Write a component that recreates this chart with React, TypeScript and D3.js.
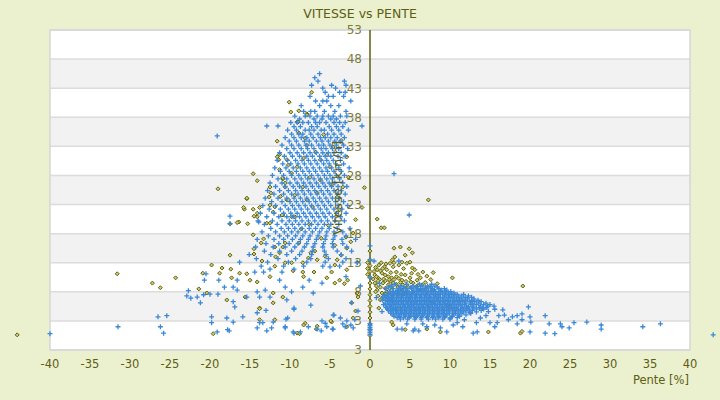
import * as d3 from "d3";
import React, { useEffect, useRef } from "react";

// Pente [%] / Vitesse [km/h] readings, rows are [vitesse, pente, pente, ...]
const blueMainRows: number[][] = [
  [45.5, -6.3],
  [44.8, -6.9],
  [44.2, -6.5, -3.2],
  [43.5, -7.3, -4.8, -3.0],
  [43.0, -5.9, -4.3],
  [42.3, -5.6, -3.8, -3.1],
  [41.6, -7.5, -5.2, -4.6, -3.3],
  [40.8, -6.8, -5.9, -5.4, -2.4],
  [40.0, -8.6, -6.3, -4.9, -3.9],
  [39.0, -8.3, -7.4, -6.9, -5.7, -4.4, -3.0],
  [38.2, -9.4, -8.1, -7.5, -6.6, -5.9, -5.2, -4.6, -3.7, -2.9],
  [37.7, -8.8, -7.0, -6.0, -4.9, -4.2],
  [37.1, -9.9, -9.1, -8.4, -7.7, -6.8, -6.3, -5.5, -4.5, -3.8, -3.1],
  [36.5, -12.9, -11.5, -1.0],
  [36.4, -9.5, -8.7, -7.3, -6.6, -5.1, -4.2, -3.4],
  [35.8, -10.3, -9.2, -8.1, -7.6, -7.0, -6.1, -5.7, -4.8, -3.9, -2.7],
  [35.1, -9.8, -8.9, -8.4, -7.4, -6.5, -5.3, -4.5, -3.6],
  [34.8, -19.1],
  [34.5, -10.6, -9.5, -8.6, -7.9, -7.1, -6.2, -5.6, -4.9, -4.1, -3.2],
  [33.9, -10.1, -9.2, -8.2, -7.6, -6.7, -6.0, -5.2, -4.4, -3.7],
  [33.2, -11.0, -9.8, -8.9, -8.0, -7.3, -6.4, -5.8, -5.0, -4.2, -3.3],
  [32.6, -10.4, -9.5, -8.6, -7.8, -7.0, -6.1, -5.5, -4.7, -3.9, -2.8],
  [31.9, -11.3, -10.0, -9.1, -8.3, -7.5, -6.7, -5.9, -5.2, -4.5, -3.6],
  [31.3, -10.7, -9.7, -8.8, -7.9, -7.2, -6.3, -5.6, -4.9, -4.0, -3.1],
  [30.6, -11.6, -10.3, -9.3, -8.5, -7.7, -6.9, -6.1, -5.4, -4.6, -3.7],
  [30.0, -10.9, -9.9, -9.0, -8.2, -7.4, -6.6, -5.8, -5.1, -4.3, -3.3],
  [29.3, -11.9, -10.5, -9.6, -8.7, -7.9, -7.1, -6.3, -5.5, -4.8, -3.9, -2.6],
  [28.7, -11.2, -10.1, -9.2, -8.4, -7.6, -6.8, -6.0, -5.3, -4.5, -3.6],
  [28.3, 3.0],
  [28.0, -12.2, -10.8, -9.8, -8.9, -8.1, -7.3, -6.5, -5.7, -5.0, -4.2, -3.2],
  [27.4, -11.5, -10.4, -9.4, -8.6, -7.8, -7.0, -6.2, -5.4, -4.7, -3.8],
  [26.7, -12.5, -11.0, -10.0, -9.1, -8.3, -7.5, -6.7, -5.9, -5.1, -4.4, -3.4],
  [26.1, -11.8, -10.6, -9.6, -8.8, -8.0, -7.2, -6.4, -5.6, -4.8, -4.0, -2.9],
  [25.4, -12.8, -11.3, -10.2, -9.3, -8.5, -7.7, -6.9, -6.1, -5.3, -4.5, -3.6],
  [24.8, -12.0, -10.8, -9.8, -9.0, -8.2, -7.4, -6.6, -5.8, -5.0, -4.1, -3.1],
  [24.1, -13.1, -11.5, -10.4, -9.5, -8.7, -7.9, -7.1, -6.3, -5.5, -4.7, -3.8],
  [23.5, -12.3, -11.0, -10.0, -9.2, -8.4, -7.6, -6.8, -6.0, -5.2, -4.3, -3.3],
  [22.8, -13.4, -11.8, -10.6, -9.7, -8.9, -8.1, -7.3, -6.5, -5.7, -4.9, -4.0, -2.8],
  [22.2, -12.6, -11.2, -10.2, -9.4, -8.6, -7.8, -7.0, -6.2, -5.4, -4.5, -3.5],
  [21.5, -13.7, -12.0, -10.8, -9.9, -9.1, -8.3, -7.5, -6.7, -5.9, -5.1, -4.2, -3.0],
  [21.2, 4.9],
  [20.9, -12.9, -11.4, -10.4, -9.6, -8.8, -8.0, -7.2, -6.4, -5.6, -4.7, -3.7],
  [20.2, -14.0, -12.2, -11.0, -10.1, -9.3, -8.5, -7.7, -6.9, -6.1, -5.3, -4.4, -3.2],
  [19.6, -13.2, -11.6, -10.5, -9.7, -8.9, -8.1, -7.3, -6.5, -5.7, -4.9, -3.9],
  [18.9, -12.4, -11.1, -10.2, -9.4, -8.5, -7.6, -6.8, -6.0, -5.1, -4.1, -2.5],
  [18.3, -13.5, -11.8, -10.7, -9.8, -9.0, -8.1, -7.2, -6.3, -5.4, -4.5, -3.4],
  [17.6, -12.7, -11.3, -10.3, -9.3, -8.4, -7.5, -6.5, -5.5, -4.4, -3.0],
  [17.0, -14.1, -12.0, -10.8, -9.7, -8.7, -7.7, -6.7, -5.6, -4.6, -3.5, -1.8],
  [16.3, -13.0, -11.4, -10.1, -9.0, -7.9, -6.9, -5.8, -4.7, -3.4],
  [15.7, -14.3, -12.1, -10.6, -9.4, -8.2, -7.1, -5.9, -4.6, -2.9],
  [15.0, -13.2, -11.3, -9.8, -8.5, -7.2, -5.7, -4.1, -2.3],
  [14.4, -15.1, -12.4, -10.4, -8.8, -7.3, -5.5, -3.6],
  [13.7, -14.2, -11.5, -9.3, -7.4, -5.2, -3.0],
  [13.1, -16.3, -12.8, -10.2, -7.9, -5.6, -3.4, -1.6],
  [12.4, -13.6, -10.8, -8.3, -5.9, -3.8],
];

const blueDenseRows: number[][] = [
  [9.3, 3.1, 4.6, 6.2, 7.7],
  [9.0, 2.7, 3.8, 5.4, 6.5, 7.2, 8.1],
  [8.8, 2.3, 4.2, 5.1, 5.8, 6.9, 7.6, 8.4],
  [8.55, 2.0, 2.9, 3.6, 4.4, 5.2, 5.9, 6.3, 7.0, 7.8, 8.6, 9.3],
  [8.3, 3.4, 3.9, 4.7, 5.5, 6.1, 6.6, 7.3, 8.0, 8.9, 9.6],
  [8.05, 2.4, 2.9, 3.5, 4.1, 4.6, 5.2, 5.8, 6.4, 7.0, 7.6, 8.2, 8.8, 9.4, 10.1],
  [7.8, 2.6, 3.1, 3.7, 4.3, 4.9, 5.4, 6.0, 6.7, 7.2, 7.9, 8.5, 9.1, 9.8, 10.5],
  [7.55, 1.8, 2.3, 2.9, 3.5, 4.1, 4.6, 5.2, 5.8, 6.4, 7.0, 7.6, 8.2, 8.8, 9.5, 10.2, 10.9, 11.7],
  [7.3, 2.1, 2.7, 3.4, 3.9, 4.6, 5.1, 5.7, 6.3, 6.9, 7.4, 8.1, 8.6, 9.3, 9.9, 10.6, 11.4, 12.3],
  [7.05, 1.6, 2.2, 2.8, 3.3, 3.9, 4.5, 5.0, 5.6, 6.2, 6.8, 7.4, 7.9, 8.5, 9.1, 9.8, 10.4, 11.1, 11.9, 12.7],
  [6.8, 1.9, 2.5, 3.0, 3.6, 4.2, 4.8, 5.3, 5.9, 6.5, 7.1, 7.6, 8.3, 8.8, 9.5, 10.1, 10.8, 11.5, 12.2, 13.0],
  [6.55, 1.6, 2.2, 2.7, 3.3, 3.9, 4.5, 5.0, 5.6, 6.2, 6.8, 7.3, 8.0, 8.5, 9.2, 9.8, 10.5, 11.2, 11.9, 12.7, 13.5],
  [6.3, 2.2, 2.8, 3.3, 3.9, 4.5, 5.1, 5.6, 6.2, 6.8, 7.3, 7.9, 8.5, 9.1, 9.7, 10.3, 10.9, 11.6, 12.4, 13.1, 13.9],
  [6.05, 1.9, 2.5, 3.1, 3.6, 4.2, 4.8, 5.4, 5.9, 6.5, 7.1, 7.7, 8.2, 8.8, 9.4, 10.0, 10.6, 11.3, 12.0, 12.8, 13.6, 14.5],
  [5.8, 1.7, 2.4, 2.9, 3.5, 4.1, 4.7, 5.2, 5.8, 6.4, 7.0, 7.5, 8.1, 8.7, 9.3, 9.9, 10.5, 11.1, 11.8, 12.6, 13.3, 14.2, 15.0],
  [5.55, 2.1, 2.7, 3.2, 3.8, 4.4, 5.0, 5.5, 6.1, 6.7, 7.3, 7.8, 8.4, 9.0, 9.6, 10.2, 10.8, 11.4, 12.1, 12.9, 13.8, 14.7, 15.5],
  [5.3, 2.0, 2.6, 3.2, 3.8, 4.3, 4.9, 5.5, 6.1, 6.6, 7.2, 7.8, 8.4, 9.0, 9.6, 10.2, 10.8, 11.5, 12.1, 12.9, 13.7, 14.6],
  [5.05, 2.2, 2.8, 3.3, 3.9, 4.5, 5.1, 5.7, 6.2, 6.8, 7.4, 8.0, 8.6, 9.2, 9.8, 10.4, 11.0, 11.7, 12.4, 13.3, 14.2],
  [4.8, 2.3, 2.9, 3.5, 4.0, 4.6, 5.2, 5.8, 6.3, 6.9, 7.5, 8.1, 8.7, 9.3, 9.9, 10.6, 11.3, 12.0, 12.8, 13.9],
  [4.55, 2.6, 3.2, 3.8, 4.3, 4.9, 5.5, 6.1, 6.6, 7.2, 7.8, 8.4, 9.0, 9.6, 10.3, 11.0, 11.7, 12.4, 13.3],
  [4.3, 2.6, 3.3, 3.9, 4.5, 5.0, 5.6, 6.2, 6.8, 7.4, 8.0, 8.6, 9.2, 9.9, 10.7, 11.5, 12.6],
  [4.05, 2.9, 3.6, 4.2, 4.8, 5.4, 6.0, 6.6, 7.2, 7.8, 8.4, 9.0, 9.6, 10.4, 11.1, 12.0],
  [3.8, 3.0, 3.7, 4.4, 5.1, 5.8, 6.5, 7.2, 7.9, 8.6, 9.4, 10.3, 11.2],
  [3.55, 3.4, 4.2, 4.9, 5.7, 6.4, 7.1, 7.8, 8.6, 9.3, 10.1, 10.9],
  [3.3, 3.8, 4.7, 5.6, 6.4, 7.3, 8.2, 9.1, 10.0],
];

// flat pente, vitesse pairs
const blueSparse: number[] = [
  -17.5, 21.0, -17.5, 19.7, -13.9, 20.0, -14.4, 11.4, -13.3, 11.4, -12.5, 11.9, -11.0, 11.4, -9.5, 11.9,
  -20.5, 11.1, -18.9, 10.0, -16.6, 10.0, -20.7, 10.0, -22.7, 8.2, -22.9, 7.3, -22.4, 6.9, -21.6, 7.1,
  -20.8, 7.5, -20.0, 7.6, -19.0, 7.6, -21.2, 6.1, -18.2, 8.8, -17.1, 8.8, -17.1, 6.3, -16.9, 5.4,
  -15.9, 3.7, -15.4, 7.1, -14.1, 8.0, -13.1, 8.3, -13.8, 7.1, -12.5, 7.1, -14.1, 4.4, -13.4, 2.7,
  -12.1, 2.8, -10.6, 2.0, -9.6, 1.1, -8.7, 1.1, -9.5, 5.2, -8.4, 8.8, -7.6, 10.0, -7.1, 7.8,
  -6.0, 9.5, -4.6, 4.0, -3.7, 3.5, -3.1, 2.0, -4.6, 1.6, -26.5, 3.7, -25.4, 3.9, -26.2, 2.0,
  -25.8, 0.9, -31.5, 2.0, -19.8, 3.7, -19.8, 2.7, -17.9, 3.5, -17.1, 2.8, -17.8, 1.5, -19.1, 1.1,
  -14.1, 1.8, -12.3, 1.8, -10.3, 3.5, -7.7, 2.0, -6.6, 1.6, -5.4, 2.0, -10.6, 8.8, -11.3, 10.0,
  -9.8, 8.0, -10.4, 6.6, -16.6, 8.3, -13.0, 4.8, -13.8, 2.7, -12.9, 1.3, -17.6, 1.3, -10.5, 3.3,
  -10.6, 1.8, -9.5, 5.0, -9.5, 0.9, -7.4, 5.7, -6.1, 1.3, -6.0, 3.0, -5.6, 2.6, -4.7, 1.6,
  -4.5, 4.0, -3.4, 2.5, -2.9, 3.0, -2.4, 2.3, -2.1, 1.8, -2.3, 6.1, -1.5, 4.7, -1.9, 3.2,
  -40.0, 0.8, -1.2, 9.0, -1.6, 13.0, -3.0, 10.6, -5.0, 12.3,
  0, 0.7, 0, 1.0, 0, 1.3, 0, 1.6, 0, 1.9, 0, 2.2, 0, 2.5, 0, 15.9, 0, 13.5, 0, 10.4,
  3.6, 13.3, 0.5, 13.3, 1.2, 9.4, 0.8, 7.0, 1.5, 4.6,
  19.8, 5.4, 21.9, 3.9, 22.4, 2.5, 21.9, 0.9, 23.1, 0.8, 23.8, 2.5, 24.0, 2.0, 24.9, 1.8,
  25.5, 2.7, 27.1, 2.8, 28.9, 2.3, 28.9, 1.6, 34.1, 2.0, 36.3, 2.5, 42.9, 0.6, 20.0, 3.7,
  20.1, 2.8, 20.0, 1.1, 19.0, 4.2, 19.0, 3.2, 18.4, 3.9, 17.8, 3.7, 16.6, 4.9, 16.8, 4.0,
  16.1, 3.9, 15.6, 2.0, 15.9, 2.7, 15.0, 2.7, 14.5, 3.9, 14.1, 5.2, 13.3, 2.7, 12.9, 0.9,
  13.4, 1.1, 12.3, 5.4, 11.6, 2.0, 10.9, 2.7, 10.4, 2.3, 9.6, 1.1, 8.8, 1.8, 8.1, 2.3,
  7.1, 2.0, 6.6, 2.5, 5.6, 1.6, 5.4, 1.3, 4.6, 2.5, 4.0, 1.6, 3.4, 1.6, 6.1, 1.3,
  10.0, 3.5, 11.8, 3.2, 12.5, 4.4, 13.8, 3.5, 17.3, 3.2, 18.4, 2.5, 14.8, 4.6, 15.6, 5.0,
];

const oliveSparse: number[] = [
  -10.1, 40.6, -9.9, 38.9, -8.9, 39.1, -7.3, 42.3, -11.6, 33.9, -9.1, 37.2, -7.9, 38.6, -14.6, 28.3,
  -14.1, 27.1, -19.0, 25.7, -15.4, 24.0, -12.5, 26.0, -12.6, 24.3, -11.3, 29.0, -11.6, 31.2, -11.4, 30.7,
  -10.9, 27.4, -10.6, 26.0, -10.4, 23.8, -15.7, 22.2, -14.6, 22.2, -14.1, 20.9, -15.3, 19.7, -16.4, 20.0,
  -17.5, 19.7, -12.9, 19.8, -12.5, 19.8, -14.6, 17.8, -11.9, 22.6, -10.9, 21.2, -9.8, 20.9,
  -14.1, 21.5, -14.5, 21.0, -16.6, 19.9, -13.6, 16.4, -13.3, 17.1, -14.5, 15.4, -14.5, 14.5, -17.5, 14.3,
  -13.5, 13.3, -19.8, 12.6, -20.9, 11.2, -18.5, 12.1, -17.4, 11.9, -17.3, 10.4, -18.8, 11.2, -31.6, 11.1,
  -27.2, 9.5, -26.2, 8.7, -24.3, 10.4, -21.4, 8.5, -16.3, 11.2, -15.4, 11.1, -15.0, 10.0, -14.1, 9.7,
  -12.5, 10.6, -11.9, 12.4, -11.8, 14.0, -11.9, 15.7, -10.9, 15.7, -10.6, 16.4, -11.3, 14.7, -10.6, 13.0,
  -9.8, 13.0, -9.6, 11.6, -8.4, 13.0, -8.4, 11.4, -8.3, 10.6, -7.7, 13.8, -7.4, 14.7, -6.6, 13.5,
  -7.0, 11.4, -5.4, 10.4, -4.8, 11.4, -4.4, 9.5, -3.8, 10.0, -4.4, 12.6, -4.1, 13.5, -3.6, 14.3,
  -2.9, 15.5, -2.4, 16.6, -3.0, 17.4, -2.1, 18.1, -2.9, 11.8, -2.8, 10.0, -3.2, 9.4, -20.4, 7.8,
  -17.9, 6.6, -15.6, 7.1, -13.8, 5.2, -12.1, 7.8, -10.9, 7.1, -11.9, 3.2, -13.8, 3.2, -19.6, 0.8,
  -9.1, 0.9, -8.1, 2.6, -6.6, 2.1, -4.8, 2.8, -2.9, 2.0, -1.8, 4.7, -1.6, 7.8, -1.5, 7.1,
  -2.1, 3.5, -44.1, 0.6, -13.8, 5.1, -12.1, 6.1, -8.3, 2.3, -6.7, 1.6, -8.8, 0.8, -4.9, 3.0,
  -2.3, 6.1, -7.9, 38.4, -9.0, 37.2, -8.9, 35.3, -8.1, 34.4, -7.9, 33.2, -11.3, 31.6, -10.4, 30.7,
  -10.2, 29.8, -9.1, 29.5, -9.8, 28.4, -10.9, 27.6, -10.6, 26.7, -12.4, 25.0, -11.2, 24.4, -10.2, 23.8,
  -8.4, 26.0, -7.5, 27.7, -6.2, 27.2, -6.6, 25.0, -7.2, 22.6, -7.9, 23.8, -6.2, 30.7, -5.0, 29.5,
  -4.6, 32.9, -4.8, 26.4, -5.4, 31.5, -4.1, 24.3, -3.4, 26.0, -2.9, 31.2, -2.7, 27.7, -3.8, 22.1,
  -15.4, 24.1, -15.8, 22.5, -13.8, 22.5, -12.5, 22.9, -12.1, 21.7, -11.0, 21.2, -9.4, 20.9, -8.6, 18.8,
  -7.6, 19.6, -6.1, 17.2, -5.2, 19.4, -4.4, 16.0, -6.9, 15.0, -5.6, 14.1, -8.9, 16.4, -9.4, 24.6,
  -5.8, 35.0, -3.6, 34.0, -6.8, 32.0, -8.3, 31.0, -4.2, 21.0, -1.8, 20.4, -1.0, 22.5,
  -0.7, 25.9, 0.9, 20.5, 1.4, 19.0, 1.8, 19.0, 7.3, 23.8, 3.0, 15.5, 3.8, 15.7, 4.9, 15.4,
  5.3, 14.7, 2.8, 13.5, 3.1, 14.0, 4.4, 14.3, 4.0, 13.1, 4.6, 12.9, 5.0, 13.1, 1.8, 12.3,
  2.1, 11.8, 2.9, 12.3, 3.3, 11.4, 0.9, 11.8, 0.6, 10.9, 1.0, 10.4, 1.5, 11.2, 1.9, 10.9,
  2.3, 10.6, 2.7, 10.4, 3.3, 10.6, 4.0, 10.0, 4.4, 10.9, 5.3, 12.1, 5.6, 11.8, 6.3, 10.4,
  6.6, 11.4, 7.1, 10.7, 7.9, 8.3, 6.1, 9.2, 5.4, 9.5, 4.8, 8.8, 4.1, 9.2, 3.5, 8.8,
  2.9, 9.5, 2.3, 9.2, 1.6, 9.5, 1.3, 8.8, 0.9, 8.3, 0.6, 9.5, 1.5, 7.8, 2.1, 8.0,
  2.7, 8.3, 3.3, 8.0, 4.0, 8.3, 4.6, 8.0, 5.4, 8.0, 6.6, 8.3, 7.3, 8.8, 1.6, 7.1,
  2.3, 6.9, 1.3, 6.6, 1.1, 5.2, 2.7, 2.8, 2.9, 2.3, 4.4, 1.5, 7.1, 1.6, 8.8, 1.1,
  14.8, 1.1, 10.3, 10.4, 19.1, 9.0, 18.8, 0.9, 19.0, 1.2, 6.0, 8.3, 7.7, 6.3, 9.6, 5.7,
  10.0, 5.4, 1.2, 10.1, 0.8, 9.0, 1.9, 9.9, 2.5, 9.8, 3.0, 10.1, 3.8, 9.6, 1.1, 12.6,
  2.5, 12.9, 3.6, 12.6, 0.7, 12.2, 1.4, 13.0, 5.0, 10.4, 5.9, 10.0, 6.9, 9.6, 2.0, 7.6,
  1.0, 9.9, 1.7, 10.2, 2.4, 10.1, 3.6, 10.3, 4.5, 9.8, 1.3, 11.6, 2.6, 11.3, 3.9, 11.0,
  0.8, 10.6, 2.0, 12.8, 3.0, 13.0, 4.2, 12.0, 1.9, 8.6, 2.6, 8.8, 3.3, 9.3, 4.4, 9.0,
  5.1, 9.7, 0.7, 8.0, 1.0, 7.3, 2.8, 7.4, 3.6, 7.7, 4.2, 7.6, 5.8, 8.9, 6.5, 9.2,
  5.2, 11.2, 6.0, 11.0, 7.6, 10.1, 7.9, 11.3, 8.4, 9.4, 0.4, 10.2, 0.5, 11.5, 1.6, 12.0,
  0, 0.5, 0, 1.5, 0, 2.5, 0, 3.5, 0, 4.5, 0, 5.5, 0, 6.5, 0, 7.5, 0, 8.5, 0, 9.5,
  0, 10.5, 0, 11.5, 0, 12.5, 0, 13.5, 0, 15.0, -0.3, 11.0, -0.3, 12.0, -0.3, 13.0,
];

const xTicks = [-40, -35, -30, -25, -20, -15, -10, -5, 0, 5, 10, 15, 20, 25, 30, 35, 40];
const yTicks = [-2, 3, 8, 13, 18, 23, 28, 33, 38, 43, 48, 53];
const yTickLabels = ["3", "3", "8", "13", "18", "23", "28", "33", "38", "43", "48", "53"];

const rowsToPairs = (rows: number[][]) =>
  rows.flatMap((r) => r.slice(1).map((p) => [p, r[0]] as [number, number]));
const flatToPairs = (flat: number[]) => {
  const out: [number, number][] = [];
  for (let i = 0; i < flat.length; i += 2) out.push([flat[i], flat[i + 1]]);
  return out;
};

const App: React.FC = () => {
  const svgRef = useRef<SVGSVGElement | null>(null);

  useEffect(() => {
    const svg = d3.select(svgRef.current);
    svg.selectAll("*").remove();
    const width = 720;
    const height = 400;
    const font = "DejaVu Sans, sans-serif";

    const x = d3.scaleLinear().domain([-40, 40]).range([50, 690]);
    const y = d3.scaleLinear().domain([-2, 53]).range([350, 30]);

    svg.append("rect").attr("width", width).attr("height", height).attr("fill", "#ebf0ce");
    svg.append("rect").attr("x", 50).attr("y", 30).attr("width", 640).attr("height", 320).attr("fill", "#ffffff");

    // bandes grises
    const bands = yTicks.slice(0, -1).filter((_, i) => i % 2 === 1);
    svg
      .append("g")
      .selectAll("rect")
      .data(bands)
      .join("rect")
      .attr("x", 50)
      .attr("width", 640)
      .attr("y", (d) => y(d + 5))
      .attr("height", (d) => y(d) - y(d + 5))
      .attr("fill", "#f2f2f2");

    svg
      .append("g")
      .selectAll("line")
      .data(yTicks)
      .join("line")
      .attr("x1", 50)
      .attr("x2", 690)
      .attr("y1", (d) => y(d))
      .attr("y2", (d) => y(d))
      .attr("stroke", "#dcdcdc")
      .attr("stroke-width", 1.5);

    svg.append("rect").attr("x", 50).attr("y", 30).attr("width", 640).attr("height", 320)
      .attr("fill", "none").attr("stroke", "#d6d6d6").attr("stroke-width", 1.5);

    // axe vertical en x = 0
    svg.append("line").attr("x1", x(0)).attr("x2", x(0)).attr("y1", 30).attr("y2", 350)
      .attr("stroke", "#5b600e").attr("stroke-width", 1.5);

    const olive = flatToPairs(oliveSparse);
    const blue = [...rowsToPairs(blueMainRows), ...rowsToPairs(blueDenseRows), ...flatToPairs(blueSparse)];

    svg
      .append("g")
      .selectAll("path")
      .data(olive)
      .join("path")
      .attr("d", (d) => {
        const px = x(d[0]);
        const py = y(d[1]);
        return `M${px},${py - 2}l2,2l-2,2l-2,-2z`;
      })
      .attr("fill", "#c9c97a")
      .attr("stroke", "#62620a")
      .attr("stroke-width", 1);

    svg
      .append("g")
      .selectAll("path")
      .data(blue)
      .join("path")
      .attr("d", (d) => {
        const px = x(d[0]);
        const py = y(d[1]);
        return `M${px - 2.5},${py}h5M${px},${py - 2.5}v5`;
      })
      .attr("stroke", "#3b88d8")
      .attr("stroke-width", 1.3);

    svg
      .append("g")
      .selectAll("text")
      .data(yTicks)
      .join("text")
      .attr("x", 362)
      .attr("y", (d) => y(d))
      .attr("dy", "0.36em")
      .attr("text-anchor", "end")
      .attr("font-family", font)
      .attr("font-size", 12)
      .attr("fill", "#6b6b26")
      .attr("fill-opacity", 0.9)
      .text((_, i) => yTickLabels[i]);

    svg.append("text")
      .attr("transform", "translate(342,188) rotate(-90)")
      .attr("text-anchor", "middle")
      .attr("font-family", font)
      .attr("font-size", 13)
      .attr("fill", "#5d5d14")
      .text("Vitesse [km/h]");

    svg
      .append("g")
      .selectAll("text")
      .data(xTicks)
      .join("text")
      .attr("x", (d) => x(d))
      .attr("y", 364)
      .attr("dy", "0.36em")
      .attr("text-anchor", "middle")
      .attr("font-family", font)
      .attr("font-size", 11.5)
      .attr("fill", "#5d5d14")
      .text((d) => String(d));

    svg.append("text").attr("x", 689).attr("y", 380).attr("dy", "0.36em").attr("text-anchor", "end")
      .attr("font-family", font).attr("font-size", 11.5).attr("fill", "#5d5d14").text("Pente [%]");

    svg.append("text").attr("x", 360).attr("y", 13).attr("dy", "0.36em").attr("text-anchor", "middle")
      .attr("font-family", font).attr("font-size", 12.5).attr("fill", "#5d5d14").text("VITESSE vs PENTE");

    svg.attr("width", width).attr("height", height);
  }, []);

  return (
    <svg
      ref={svgRef}
      width={720}
      height={400}
      style={{ position: "absolute", left: 0, top: 0, display: "block" }}
    />
  );
};

export default App;
